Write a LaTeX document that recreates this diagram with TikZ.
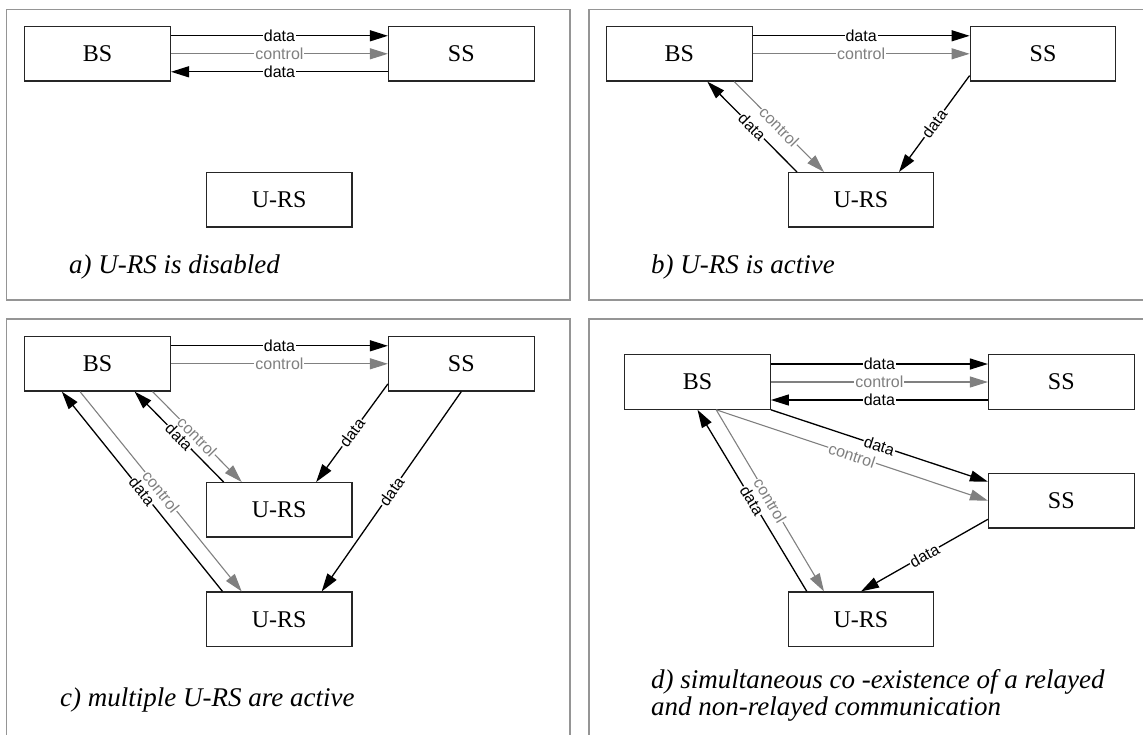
\documentclass[tikz,border=0pt]{standalone}
\usepackage{fontspec}
\setmainfont{Liberation Serif}
\newfontfamily\labelfont{Liberation Sans}
\usetikzlibrary{arrows.meta}
\definecolor{ctrlgray}{HTML}{808080}
\definecolor{panelgray}{HTML}{959595}
\tikzset{
	box/.style={draw=black!85, line width=1.2pt, minimum width=145.6pt, minimum height=54.4pt, inner sep=0pt, font=\fontsize{24}{28}\selectfont},
	capt/.style={anchor=base west, inner sep=0pt, align=left, font=\fontsize{27}{27}\selectfont\itshape},
	datalink/.style={black, line width=1.3pt, -{Triangle[length=18pt,width=11pt]}},
	ctrllink/.style={ctrlgray, line width=1.1pt, -{Triangle[length=18pt,width=11pt]}},
	tag/.style={midway, sloped, fill=white, inner sep=1pt, font=\labelfont\fontsize{16}{16}\selectfont},
	panel/.style={panelgray, line width=1.5pt}
}

\begin{document}
\begin{tikzpicture}[x=1pt,y=-1pt]
	\useasboundingbox (0,0) rectangle (1143,734);
	\draw[panel] (6.5,9.3) rectangle (570,300);
	\draw[panel] (1150,9.3) -- (589,9.3) -- (589,300) -- (1150,300);
	\draw[panel] (6.5,740) -- (6.5,319) -- (570,319) -- (570,740);
	\draw[panel] (1150,319) -- (589,319) -- (589,740);

	% a)
	\node[box] (bsA) at (97.6,53.8) {BS};
	\node[box] (ssA) at (461.3,53.8) {SS};
	\node[box] (urA) at (279.2,199.8) {U-RS};
	\node[capt] (capA) at (69,273) {a) U-RS is disabled};
	\draw[datalink] ([yshift=18pt]bsA.east) -- node[tag] {data} ([yshift=18pt]ssA.west);
	\draw[ctrllink] (bsA.east) -- node[tag] {control} (ssA.west);
	\draw[datalink] ([yshift=-18pt]ssA.west) -- node[tag] {data} ([yshift=-18pt]bsA.east);

	% b)
	\node[box] (bsB) at (679.3,53.8) {BS};
	\node[box] (ssB) at (1043,53.8) {SS};
	\node[box] (urB) at (861,199.8) {U-RS};
	\node[capt] (capB) at (651,273) {b) U-RS is active};
	\draw[datalink] ([yshift=18pt]bsB.east) -- node[tag] {data} ([yshift=18pt]ssB.west);
	\draw[ctrllink] (bsB.east) -- node[tag] {control} (ssB.west);
	\draw[ctrllink] ([xshift=55pt]bsB.south) -- node[tag] {control} ([xshift=-37pt]urB.north);
	\draw[datalink] ([xshift=-64pt]urB.north) -- node[tag] {data} ([xshift=28pt]bsB.south);
	\draw[datalink] ([yshift=6pt]ssB.south west) -- node[tag] {data} ([xshift=38pt]urB.north);

	% c)
	\node[box] (bsC) at (97.6,363.8) {BS};
	\node[box] (ssC) at (461.3,363.8) {SS};
	\node[box] (urC1) at (279.2,509.8) {U-RS};
	\node[box] (urC2) at (279.2,619.2) {U-RS};
	\node[capt] (capC) at (60,706.7) {c) multiple U-RS are active};
	\draw[datalink] ([yshift=18pt]bsC.east) -- node[tag] {data} ([yshift=18pt]ssC.west);
	\draw[ctrllink] (bsC.east) -- node[tag] {control} (ssC.west);
	\draw[ctrllink] ([xshift=55pt]bsC.south) -- node[tag] {control} ([xshift=-37.5pt]urC1.north);
	\draw[datalink] ([xshift=-55.6pt]urC1.north) -- node[tag] {data} ([xshift=37pt]bsC.south);
	\draw[datalink] ([yshift=7.7pt]ssC.south west) -- node[tag] {data} ([xshift=37pt]urC1.north);
	\draw[ctrllink] ([xshift=-17.6pt]bsC.south) -- node[tag] {control} ([xshift=-37.5pt]urC2.north);
	\draw[datalink] ([xshift=-56.7pt]urC2.north) -- node[tag] {data} ([xshift=-35.8pt]bsC.south);
	\draw[datalink] (ssC.south) -- node[tag] {data} ([xshift=42.5pt]urC2.north);

	% d)
	\node[box] (bsD) at (697.5,382) {BS};
	\node[box] (ssD1) at (1061.3,382) {SS};
	\node[box] (ssD2) at (1061.3,500.7) {SS};
	\node[box] (urD) at (861,619.2) {U-RS};
	\node[capt] (capD) at (651,715) {d) simultaneous co -existence of a relayed\\and non-relayed communication};
	\draw[datalink] ([yshift=18pt]bsD.east) -- node[tag] {data} ([yshift=18pt]ssD1.west);
	\draw[ctrllink] (bsD.east) -- node[tag] {control} (ssD1.west);
	\draw[datalink] ([yshift=-18pt]ssD1.west) -- node[tag] {data} ([yshift=-18pt]bsD.east);
	\draw[datalink] (bsD.south east) -- node[tag] {data} ([yshift=19pt]ssD2.west);
	\draw[ctrllink] ([xshift=18.7pt]bsD.south) -- node[tag] {control} (ssD2.west);
	\draw[datalink] ([xshift=-54.2pt]urD.north) -- node[tag] {data} (bsD.south);
	\draw[ctrllink] ([xshift=18.7pt]bsD.south) -- node[tag] {control} ([xshift=-37pt]urD.north);
	\draw[datalink] ([yshift=-18.6pt]ssD2.west) -- node[tag] {data} (urD.north);
\end{tikzpicture}
\end{document}
